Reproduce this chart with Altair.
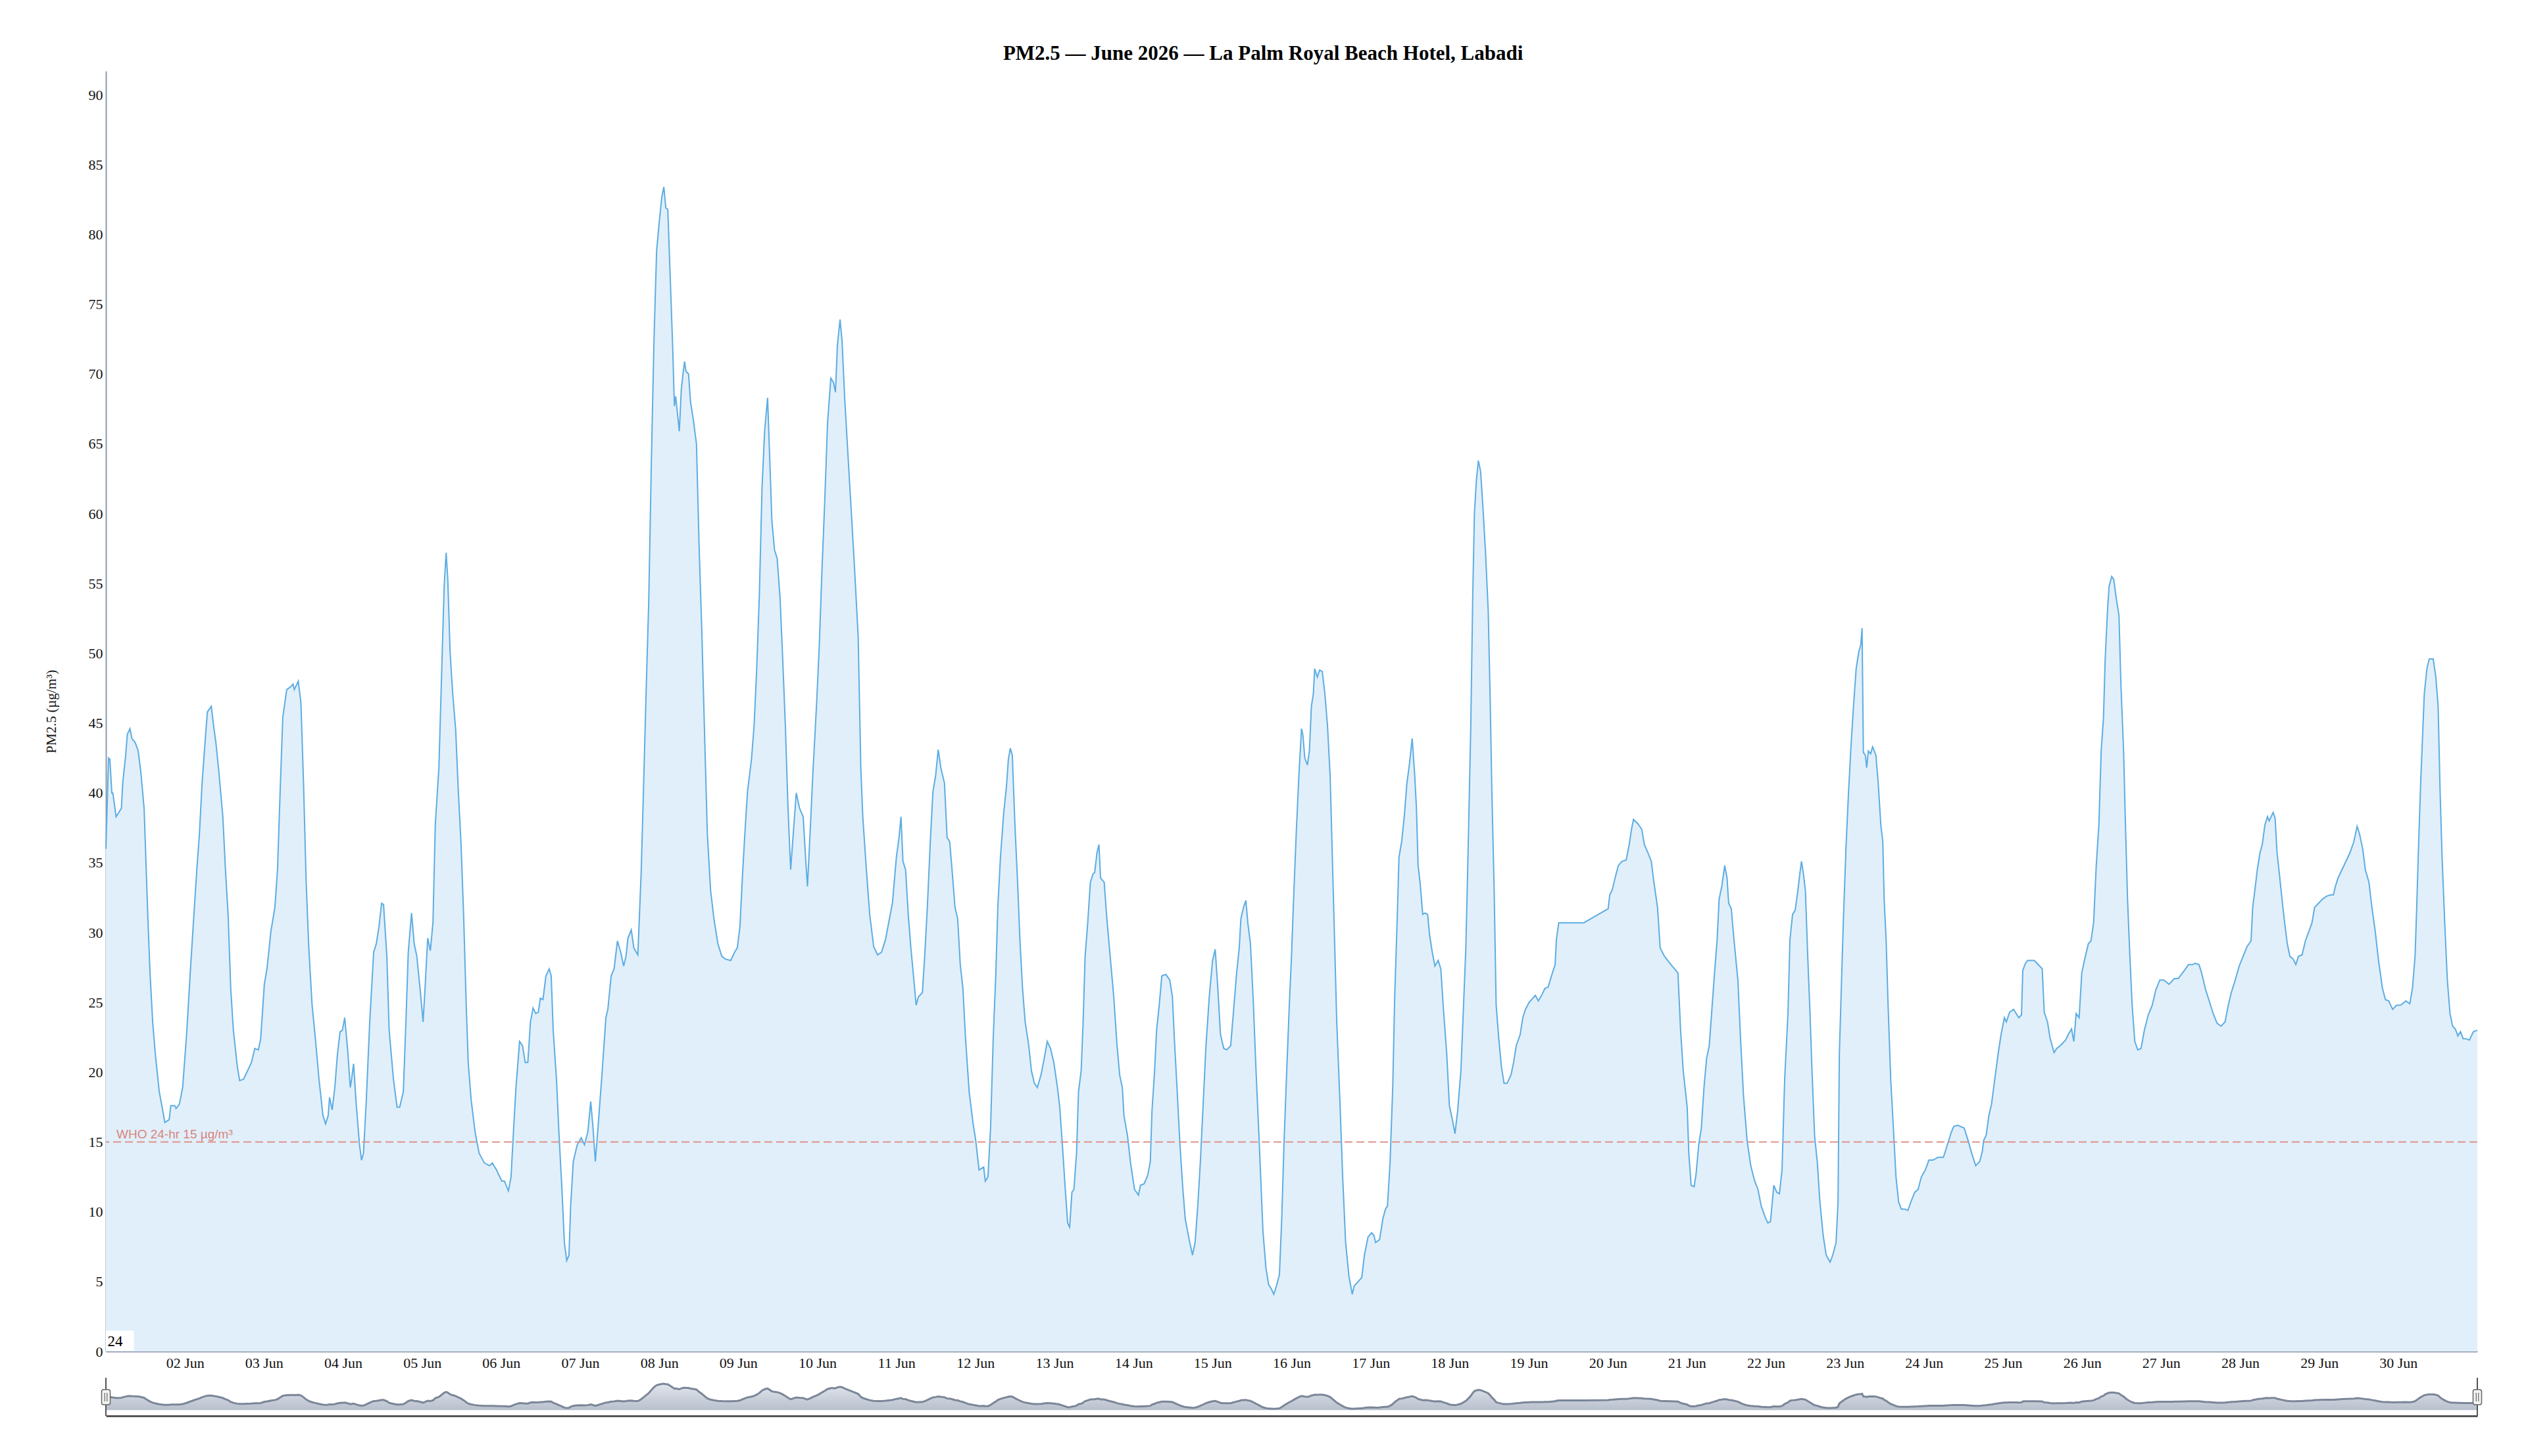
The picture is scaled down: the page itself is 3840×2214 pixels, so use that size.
import altair as alt
import pandas as pd

TITLE = "PM2.5 — June 2026 — La Palm Royal Beach Hotel, Labadi"
Y_TITLE = "PM2.5 (µg/m³)"
WHO_LABEL = "WHO 24-hr 15 µg/m³"
WHO_LIMIT = 15
Y_TICKS = list(range(0, 91, 5))
Y_MAX = 91.7
DAY_TICKS = list(range(2, 31))
BOX_LABEL = "24"

# (hours since 2026-06-01 00:00 UTC, PM2.5 µg/m³)
SEG_1 = [(0, 36), (0.8, 42.5), (1.2, 42.4), (1.8, 40), (2.1, 40), (3.1, 38.3), (3.9, 38.6), (4.7, 38.9),
         (5.1, 40.7), (6.0, 42.7), (6.5, 44.2), (7.3, 44.6), (7.9, 43.9), (8.9, 43.6), (9.8, 43), (10.6, 41.5),
         (11.6, 38.9), (12.2, 34.8), (12.8, 30.7), (13.4, 27.1), (14.2, 23.6), (15.0, 21.3), (16.2, 18.6),
         (17.3, 17.2), (17.9, 16.4), (19.2, 16.6), (19.7, 17.6), (20.9, 17.6), (21.3, 17.4), (22.3, 17.7),
         (23.3, 18.9), (24.5, 22.7), (25.6, 27.1), (26.4, 30.1), (27.6, 34.5), (28.4, 37.1), (29.2, 40.7),
         (30.0, 43.3), (30.8, 45.8), (32.0, 46.2), (32.7, 44.8), (33.4, 43.6), (34.3, 41.5), (35.5, 38.3),
         (36.3, 34.5), (37.1, 31.3), (37.9, 26), (38.7, 23), (39.9, 20.4), (40.6, 19.4), (41.8, 19.5),
         (43.0, 20.1), (44.2, 20.7), (45.2, 21.7), (46.3, 21.6), (47.0, 22.4), (48.1, 26.3), (48.9, 27.4),
         (50.1, 30.1), (51.3, 31.8), (52.1, 34.5), (52.9, 40.1), (53.7, 45.4), (54.9, 47.4), (56.1, 47.6),
         (56.8, 47.8), (57.2, 47.4), (58.4, 48), (59.2, 46.5), (60.0, 40.7), (60.8, 33.6), (61.6, 28.9),
         (62.6, 24.8), (63.6, 22.4), (64.7, 19.5), (65.9, 16.9), (66.7, 16.3), (67.5, 16.9), (67.9, 18.2),
         (68.7, 17.3), (69.5, 18.9), (70.3, 21.3), (71.1, 22.9), (71.8, 23), (72.5, 23.9), (73.4, 21.6),
         (74.2, 18.9), (74.6, 19.5), (75.2, 20.6), (76.0, 17.7), (77.0, 14.8), (77.6, 13.7), (78.2, 14.2),
         (79.0, 17.7), (80.1, 23.6), (81.3, 28.6), (82.1, 29.2), (82.9, 30.4), (83.7, 32.1), (84.3, 32),
         (85.3, 28.3), (86.0, 23), (87.3, 19.5), (88.4, 17.5), (89.2, 17.5), (90.3, 18.6), (91.0, 23),
         (91.8, 28.6), (92.8, 31.4), (93.6, 29.2), (94.4, 28.3), (95.5, 25.7), (96.3, 23.6), (96.9, 26),
         (97.7, 29.6), (98.5, 28.7), (99.3, 30.7), (100.0, 37.7), (101.1, 41.8), (101.9, 48.3), (102.7, 54.8),
         (103.3, 57.2), (103.8, 55.3), (104.5, 50.1), (105.3, 47.1), (106.2, 44.5), (107.0, 40.1),
         (107.8, 36.5), (108.6, 31.3), (109.4, 24.8), (110.0, 20.7), (110.9, 18), (112.1, 15.7),
         (113.3, 14.2), (114.9, 13.5), (116.5, 13.3), (117.3, 13.5)]

SEG_2 = [(118.6, 13.0), (120.2, 12.2), (121, 12.2), (122.2, 11.5), (123, 12.5), (123.8, 16), (124.5, 18.9),
         (125.6, 22.2), (126.5, 21.9), (127.3, 20.7), (128.1, 20.7), (128.9, 23.6), (129.7, 24.6),
         (130.5, 24.2), (131.3, 24.3), (131.9, 25.3), (132.7, 25.2), (133.6, 26.9), (134.6, 27.4),
         (135.2, 26.9), (135.8, 23), (136.8, 19.5), (137.6, 15.4), (138.4, 11.9), (139.2, 7.8), (139.9, 6.5),
         (140.6, 6.9), (141.1, 10.4), (141.9, 13.6), (143.1, 14.8), (144.3, 15.3), (145.3, 14.8),
         (146.3, 15.7), (147.2, 17.9), (147.9, 16), (148.6, 13.6), (149.4, 16), (150.6, 19.8), (151.8, 23.9),
         (152.4, 24.5), (153.4, 26.9), (154.3, 27.4), (155.3, 29.4), (156.3, 28.6), (157.2, 27.6),
         (157.9, 28.3), (158.5, 29.6), (159.5, 30.2), (160.3, 28.9), (161.5, 28.4), (162.5, 34.2),
         (163.2, 40.1), (164, 47.1), (164.8, 53.6), (165.6, 63.6), (166.4, 72.4), (167.2, 78.8), (168, 80.9),
         (168.8, 82.7), (169.4, 83.4), (170, 81.9), (170.6, 81.8), (171.4, 76.5), (172.1, 71.8),
         (172.6, 67.7), (173, 68.4), (174.1, 65.9), (174.7, 68.9), (175.3, 70.2), (175.7, 70.9),
         (176.1, 70.2), (176.9, 70), (177.5, 68), (178.3, 66.8), (179.3, 65), (180.1, 57.7), (180.9, 51.8),
         (181.7, 44.8), (182.6, 37.1), (183.6, 33), (184.6, 31), (185.8, 29.2), (187, 28.3), (188.1, 28.1),
         (189.7, 28), (190.9, 28.6), (191.7, 28.9), (192.5, 30.4), (193.3, 34.2), (194, 37.1), (194.8, 40.1),
         (196, 42.4), (196.8, 44.8), (197.6, 48.9), (198.4, 54.2), (199.2, 61.8), (200, 65.9), (200.9, 68.3),
         (201.6, 63.6), (202.2, 59.5), (203, 57.4), (203.8, 56.8), (204.7, 53.9), (205.5, 49.5),
         (206.3, 44.8), (207.1, 38.9), (207.9, 34.5), (208.7, 37.1), (209.6, 40), (210.6, 38.9),
         (211.7, 38.3), (212.5, 35.1), (213, 33.3), (213.8, 37.1), (214.6, 41.2), (215.8, 46.5),
         (216.6, 50.6), (217.4, 55.9), (218.3, 61.2), (219.1, 66.5), (220.1, 69.7), (220.9, 69.4),
         (221.5, 68.7), (222.1, 72.1), (222.9, 73.9), (223.5, 72.4), (224.3, 68.3), (225.3, 64.2),
         (226.2, 60.6), (227.2, 56.5), (228.4, 51.2), (229.2, 41.8), (229.8, 38.3), (230.8, 34.8),
         (231.9, 31.3), (233.1, 29), (234.3, 28.4), (235.5, 28.6)]

SEG_3 = [(236.7, 29.5), (237.9, 31), (238.8, 32.1), (240, 35.4), (240.8, 36.8), (241.4, 38.3), (242, 35.1),
         (242.8, 34.5), (243.6, 31.3), (244.4, 28.9), (245.2, 26.9), (246, 24.8), (246.7, 25.4),
         (247.9, 25.7), (248.6, 28.3), (249.4, 31.8), (250.3, 36.5), (251.1, 40.1), (251.9, 41.2),
         (252.7, 43.1), (253.5, 41.8), (254.6, 40.7), (255.4, 36.8), (256.2, 36.5), (257, 34.2),
         (257.8, 31.8), (258.6, 31), (259.4, 27.7), (260.2, 26), (261, 22.4), (262.1, 18.6), (263.3, 16.3),
         (264.1, 15.1), (265.1, 13), (266.5, 13.2), (267, 12.2), (267.8, 12.5), (268.6, 16), (269.4, 22.4),
         (270.2, 27.1), (270.8, 31.8), (271.6, 35.4), (272.6, 38.6), (273.4, 40.4), (274, 42.4),
         (274.6, 43.2), (275.2, 42.7), (276, 37.7), (276.8, 33.6), (277.5, 29.5), (278.3, 26),
         (279.1, 23.6), (280.2, 21.9), (281, 20.1), (281.9, 19.2), (282.8, 18.9), (283.9, 19.8), (284.9, 21),
         (285.8, 22.2), (286.8, 21.7), (287.8, 20.7), (288.9, 18.9), (289.6, 17.5), (290.4, 14.8),
         (291.2, 11.9), (292, 9.2), (292.6, 8.9), (293.3, 11.4), (293.9, 11.6), (294.7, 14.2), (295.3, 18.6),
         (296.1, 20.1), (296.7, 23.6), (297.3, 28.3), (298.1, 30.7), (298.9, 33.6), (299.7, 34.2),
         (300.2, 34.3), (300.9, 35.7), (301.5, 36.3), (302, 33.9), (303.1, 33.6), (303.9, 31), (304.8, 28.6),
         (306, 25.4), (307, 21.9), (307.8, 19.8), (308.6, 18.9), (309.1, 16.9), (310.2, 15.4), (311.1, 13.5),
         (312.3, 11.6), (313.5, 11.2), (314.1, 11.9), (315.2, 12), (316.3, 12.6), (317.1, 13.6),
         (317.6, 17.2), (318.4, 20.1), (319, 23), (319.8, 24.8), (320.6, 26.9), (321.8, 27), (323, 26.6),
         (323.8, 25.4), (324.4, 22.4), (325.2, 18.9), (326.1, 14.8), (326.9, 11.9), (327.7, 9.5), (328.9, 8),
         (329.9, 6.9), (330.7, 7.8), (331.5, 10.4), (332.3, 13.6), (333.1, 17.5), (334, 21.9), (335, 25.4),
         (336, 28), (336.8, 28.8), (337.6, 26), (338.4, 22.7), (339.4, 21.7), (340.3, 21.6), (341.5, 21.9),
         (342.3, 24.2), (343.3, 27.1), (344.1, 28.9), (344.6, 31), (345.4, 31.8), (346.1, 32.3),
         (346.7, 30.7), (347.5, 29.2), (348.3, 25.4), (349.2, 20.1), (350.2, 14.8), (351.3, 8.6), (352.2, 6),
         (353, 4.8), (353.8, 4.5), (354.6, 4.1), (355.4, 4.7), (356.3, 5.5), (357, 9.5), (357.7, 15),
         (358.5, 20), (359.3, 24.8), (360.0, 28.5)]

SEG_4 = [(360.6, 32.4), (361.4, 37.1), (362.2, 41.2), (363, 44.6), (363.4, 44.2), (364, 42.5), (364.8, 42),
         (365.4, 43), (366, 46.2), (366.6, 47.1), (367, 48.9), (367.8, 48.3), (368.5, 48.8), (369.3, 48.7),
         (370.1, 47.1), (370.9, 44.8), (371.7, 41.2), (372.3, 36), (372.9, 30.7), (373.7, 23.6),
         (374.7, 17.7), (375.5, 12.5), (376.4, 7.8), (377.4, 5.4), (378.4, 4.1), (379, 4.7), (380.2, 5),
         (381.3, 5.3), (382.1, 6.9), (383.2, 8.2), (384.3, 8.5), (385, 8.3), (385.5, 7.8), (386.7, 8),
         (387.7, 9.5), (388.5, 10.2), (389.1, 10.4), (389.9, 13.6), (390.7, 18.9), (391.3, 25.4),
         (392.1, 31.3), (392.6, 35.4), (393.4, 36.5), (394.2, 38.3), (395, 40.7), (395.8, 42.1),
         (396.6, 43.9), (397.4, 41.2), (397.9, 38.9), (398.4, 34.8), (399, 33.6), (399.8, 31.3),
         (400.5, 31.4), (401.3, 31.3), (401.9, 29.8), (402.7, 28.6), (403.5, 27.6), (404.5, 28),
         (405.3, 27.4), (406.1, 24.5), (407.1, 21.3), (407.9, 17.6), (408.8, 16.6), (409.6, 15.6),
         (410.4, 17.2), (411.4, 20.1), (412.1, 24.2), (412.9, 28.9), (413.6, 36), (414.4, 44.8), (415, 54.2),
         (415.5, 60), (416.1, 62.4), (416.7, 63.8), (417.4, 63), (418.2, 60), (418.9, 57.1), (419.7, 53),
         (420.3, 46.5), (420.8, 40.1), (421.5, 33), (422.1, 24.8), (422.9, 22.4), (423.7, 20.4),
         (424.5, 19.2), (425.4, 19.2), (426.6, 19.8), (427.4, 20.7), (428.2, 21.9), (429.4, 22.7),
         (430.2, 23.9), (431, 24.5), (432.1, 25), (432.9, 25.2), (434, 25.5), (434.9, 25.1), (435.9, 25.5),
         (436.9, 26), (437.9, 26.1), (438.9, 26.9), (440, 27.7), (440.4, 29.5), (441.1, 30.7), (448.7, 30.7),
         (456.1, 31.7), (456.6, 32.7), (457.4, 33.1), (458.2, 33.9), (459.2, 34.8), (460.3, 35.1),
         (461.6, 35.2), (462.5, 36.3), (463.2, 37.4), (463.8, 38.1), (465.1, 37.8), (466.3, 37.4),
         (467.1, 36.3), (468.2, 35.7), (469.2, 35.1), (470, 33.6), (471.1, 31.8), (471.9, 28.9),
         (473.2, 28.3), (475.2, 27.7)]

SEG_5 = [(477.3, 27.1), (478.1, 23), (478.9, 20.1), (480.1, 17.5), (480.6, 14.2), (481.3, 11.9), (482.2, 11.8),
         (482.8, 12.7), (483.6, 14.8), (484.4, 16), (485.2, 18.9), (486, 21), (486.8, 21.9), (487.6, 24.5),
         (488.4, 27.1), (489.2, 29.5), (489.8, 32.4), (490.6, 33.3), (491.5, 34.8), (492.2, 33.9),
         (492.7, 32.1), (493.5, 31.7), (494.3, 29.5), (495.5, 26.6), (496.3, 22.4), (497.2, 18.3),
         (498.3, 15.1), (499.4, 13.3), (500.6, 12.2), (501.6, 11.6), (502.6, 10.4), (503.8, 9.6),
         (504.6, 9.2), (505.4, 9.3), (506.4, 11.9), (507.3, 11.4), (508.1, 11.3), (508.9, 13), (509.7, 19.5),
         (510.7, 24.2), (511.3, 29.5), (512.1, 31.3), (512.9, 31.6), (513.7, 33), (514.3, 34.2),
         (514.8, 35.1), (515.4, 34.2), (516, 33), (516.7, 28.3), (517.4, 24.2), (518, 20.1), (518.8, 15.4),
         (519.6, 13.6), (520.4, 10.7), (521.4, 8.3), (522.3, 6.9), (523.5, 6.4), (524.3, 6.9), (525.3, 7.8),
         (525.9, 10.7), (526.3, 21.3), (526.9, 26), (527.5, 30.7), (528.3, 36), (529.1, 40.1), (529.9, 43.6),
         (530.6, 46.2), (531.4, 48.9), (532.2, 50.1), (532.8, 50.6), (533.2, 51.8), (533.6, 42.9),
         (534.2, 42.7), (534.6, 41.8), (535.1, 43), (535.8, 42.8), (536.4, 43.3), (537.4, 42.7),
         (538.1, 40.7), (538.9, 37.7), (539.5, 36.5), (539.9, 32.4), (540.5, 29.5), (541.1, 24.8),
         (541.9, 19.5), (542.7, 16), (543.5, 12.5), (544.3, 10.7), (545.1, 10.2), (546, 10.2), (547.1, 10.1),
         (548, 10.7), (549.2, 11.4), (550.2, 11.6), (551.2, 12.5), (552.4, 13), (553.5, 13.7), (554.7, 13.7),
         (556.3, 13.9), (557.9, 13.9), (559.1, 14.8), (560.3, 15.7), (561, 16.1), (562.2, 16.2), (564.2, 16),
         (565.4, 15.1), (566.6, 14.1), (567.7, 13.3), (568.9, 13.6), (569.7, 14.3), (570.1, 15.1),
         (570.9, 15.5), (571.7, 16.9), (572.5, 17.7), (573.5, 19.5), (574.5, 21.3), (575.4, 22.7),
         (576.4, 23.9), (577, 23.6), (578, 24.3), (579.2, 24.5), (580, 24.2), (580.8, 23.9), (581.6, 24.1),
         (582, 27.3), (582.8, 27.8), (583.5, 28.0), (585.5, 28), (587.9, 27.4), (588.5, 24.3), (589.5, 23.6),
         (590.3, 22.4), (591.5, 21.4), (592.3, 21.7), (593.4, 21.9), (595, 22.3), (595.8, 22.7)]

SEG_6 = [(596.8, 23.1), (597.5, 22.2), (598.2, 24.2), (599.1, 23.9), (599.9, 27.1), (600.7, 28), (601.9, 29.2),
         (602.7, 29.4), (603.5, 30.7), (604.3, 34.8), (605.1, 37.7), (605.8, 43), (606.5, 45.4), (607, 49.5),
         (607.7, 53), (608.2, 54.8), (609, 55.5), (609.6, 55.3), (610.4, 53.9), (611.2, 52.7), (611.8, 47.7),
         (612.6, 43), (613.1, 38.3), (613.8, 32.4), (614.4, 28.9), (615.2, 24.8), (616, 22.2), (616.9, 21.6),
         (617.9, 21.7), (618.9, 23), (620.1, 24.1), (621.3, 24.8), (622.4, 25.9), (623.6, 26.6),
         (624.8, 26.6), (626.4, 26.3), (628, 26.7), (629.2, 26.7), (631.1, 27.3), (632.3, 27.7),
         (633.5, 27.7), (634.3, 27.8), (635.5, 27.7), (636.3, 27.1), (637.4, 26), (638.6, 25.1),
         (639.8, 24.2), (641, 23.5), (642.2, 23.3), (643.4, 23.6), (644.4, 24.8), (645.3, 25.7),
         (646.5, 26.6), (647.7, 27.6), (648.9, 28.3), (650.1, 29), (651.3, 29.4), (651.8, 31.8),
         (652.6, 33.3), (653.2, 34.5), (654, 35.7), (654.7, 36.3), (655.5, 37.7), (656.3, 38.3), (656.8, 38),
         (657.4, 38.3), (658, 38.6), (658.6, 38.2), (659.2, 35.7), (659.9, 34.2), (660.7, 32.4),
         (661.5, 30.7), (662.3, 29.2), (663.1, 28.3), (664.1, 28.1), (664.9, 27.7), (665.7, 28.3),
         (666.8, 28.4), (667.8, 29.4), (668.9, 30.1), (669.8, 30.7), (670.6, 31.8), (671.8, 32.1),
         (673, 32.4), (674.2, 32.6), (675.4, 32.7), (676.3, 32.7), (676.9, 33.3), (677.7, 33.9),
         (678.9, 34.5), (680.1, 35.1), (681.3, 35.7), (682.5, 36.5), (683.5, 37.6), (684.2, 37.1), (685.2, 36),
         (686, 34.5), (687.1, 33.6), (688, 31.8), (689, 30.1), (690, 28), (691.2, 26), (692.1, 25.2),
         (693.1, 25.1), (694.3, 24.5), (695.5, 24.8), (696.7, 24.8), (698.3, 25.1), (699.5, 24.9),
         (700.3, 26), (701.1, 28.3), (701.6, 31.8), (702.2, 36.5), (702.8, 40.7), (703.4, 44.2),
         (703.9, 47.1), (704.7, 48.9), (705.4, 49.6), (706.6, 49.6), (707.4, 48.3), (708.1, 46.2),
         (708.7, 40.1), (709.3, 35.4), (710.1, 30.7), (710.9, 26.6), (711.7, 24.2), (712.5, 23.3),
         (713.3, 23.1), (714.1, 22.6), (714.9, 22.9), (715.7, 22.4), (716.5, 22.4), (717.6, 22.3),
         (718.8, 22.9), (720, 23)]

START = pd.Timestamp("2026-06-01T00:00:00Z")


def iso(hours):
    return (START + pd.to_timedelta(hours, unit="h")).strftime("%Y-%m-%dT%H:%M:%SZ")


rows = SEG_1 + SEG_2 + SEG_3 + SEG_4 + SEG_5 + SEG_6
df = pd.DataFrame(rows, columns=["h", "pm"])
df["t"] = [iso(h) for h in df["h"]]

W, H = 3605, 1947
NAV_H = 58
NAV_DOMAIN = [-18.4, 102.4]
SERIF = "Liberation Serif"

x_domain = [alt.DateTime(year=2026, month=6, date=1, utc=True),
            alt.DateTime(year=2026, month=7, date=1, utc=True)]
x_scale = alt.Scale(type="utc", domain=x_domain, nice=False)
x_axis = alt.Axis(values=[alt.DateTime(year=2026, month=6, date=d, utc=True) for d in DAY_TICKS],
                  format="%d %b", labelFont=SERIF, labelFontSize=22, labelColor="#111",
                  labelPadding=7, ticks=False, grid=False, domainColor="#8d99ab", domainWidth=2,
                  labelOverlap=False, title=None)
y_scale = alt.Scale(domain=[0, Y_MAX], nice=False)
y_axis = alt.Axis(values=Y_TICKS, labelFont=SERIF, labelFontSize=22, labelColor="#111", labelPadding=5,
                  ticks=False, grid=False, domainColor="#8d99ab", domainWidth=2, titleFont=SERIF,
                  titleFontSize=21, titleFontWeight="normal", titleColor="#111", titlePadding=46)

base = alt.Chart(df).encode(x=alt.X("t:T", scale=x_scale, axis=x_axis))
area = base.mark_area(color="#e1effa", opacity=1).encode(
    y=alt.Y("pm:Q", scale=y_scale, axis=y_axis, title=Y_TITLE))
line = base.mark_line(color="#5dade2", strokeWidth=2).encode(y=alt.Y("pm:Q", scale=y_scale))

who_df = pd.DataFrame({"v": [WHO_LIMIT], "label": [WHO_LABEL]})
who_rule = alt.Chart(who_df).mark_rule(color="#e0918a", strokeDash=[12, 6], strokeWidth=2).encode(
    y=alt.Y("v:Q", scale=y_scale))
who_text = alt.Chart(who_df).mark_text(align="left", baseline="alphabetic", dy=-6, font="Liberation Sans",
                                       fontSize=19, color="#d9837c").encode(
    x=alt.value(16), y=alt.Y("v:Q", scale=y_scale), text="label:N")

box_df = pd.DataFrame({"t0": [iso(0.05)], "t1": [iso(8.5)], "tt": [iso(0.5)], "y0": [0.05], "y1": [1.5],
                       "ym": [0.72], "label": [BOX_LABEL]})
box = alt.Chart(box_df).mark_rect(color="white").encode(
    x=alt.X("t0:T", scale=x_scale), x2="t1:T", y=alt.Y("y0:Q", scale=y_scale), y2="y1:Q")
box_text = alt.Chart(box_df).mark_text(align="left", baseline="middle", font=SERIF, fontSize=23,
                                       color="#000").encode(
    x=alt.X("tt:T", scale=x_scale), y=alt.Y("ym:Q", scale=y_scale), text="label:N")

main = alt.layer(area, line, who_rule, who_text, box, box_text).properties(width=W, height=H)

# navigator: the same series on a compressed scale
nav_x = alt.X("t:T", scale=x_scale, axis=alt.Axis(labels=False, ticks=False, grid=False, domainColor="#555",
                                                 domainWidth=3, title=None))
nav_area = alt.Chart(df).mark_area(
    line={"color": "#7b8698", "strokeWidth": 3},
    color=alt.Gradient(gradient="linear", stops=[alt.GradientStop(color="#d5dae3", offset=0),
                                                 alt.GradientStop(color="#9aa5b8", offset=1)],
                       x1=0, x2=0, y1=0, y2=1)).encode(
    x=nav_x, y=alt.Y("pm:Q", scale=alt.Scale(domain=NAV_DOMAIN, nice=False), axis=None), y2=alt.value(NAV_H))

EDGE_H = [0, 720]
edge_df = pd.DataFrame({"t": [iso(h) for h in EDGE_H],
                        "a": [iso(h - 1.3) for h in EDGE_H], "b": [iso(h + 1.3) for h in EDGE_H],
                        "l1": [iso(h - 0.35) for h in EDGE_H], "l2": [iso(h + 0.35) for h in EDGE_H]})
edge_rule = alt.Chart(edge_df).mark_rule(color="#555", strokeWidth=2).encode(
    x=alt.X("t:T", scale=x_scale), y=alt.value(0), y2=alt.value(NAV_H))
handle = alt.Chart(edge_df).mark_rect(fill="#f2f2f2", stroke="#666", strokeWidth=1.5, cornerRadius=3).encode(
    x=alt.X("a:T", scale=x_scale), x2="b:T", y=alt.value(18), y2=alt.value(41))
grip1 = alt.Chart(edge_df).mark_rule(color="#666", strokeWidth=1.2).encode(
    x=alt.X("l1:T", scale=x_scale), y=alt.value(23), y2=alt.value(36))
grip2 = alt.Chart(edge_df).mark_rule(color="#666", strokeWidth=1.2).encode(
    x=alt.X("l2:T", scale=x_scale), y=alt.value(23), y2=alt.value(36))

nav = alt.layer(nav_area, edge_rule, handle, grip1, grip2).properties(width=W, height=NAV_H)

chart = alt.vconcat(main, nav, spacing=11).properties(
    title=alt.TitleParams(TITLE, font=SERIF, fontSize=31, fontWeight="bold", color="#000", anchor="middle",
                          offset=10),
    padding={"left": 59, "top": 58, "right": 10, "bottom": 5},
    background="white",
).configure_view(stroke=None)

chart.save("out.html", embed_options={"renderer": "svg", "actions": False})
